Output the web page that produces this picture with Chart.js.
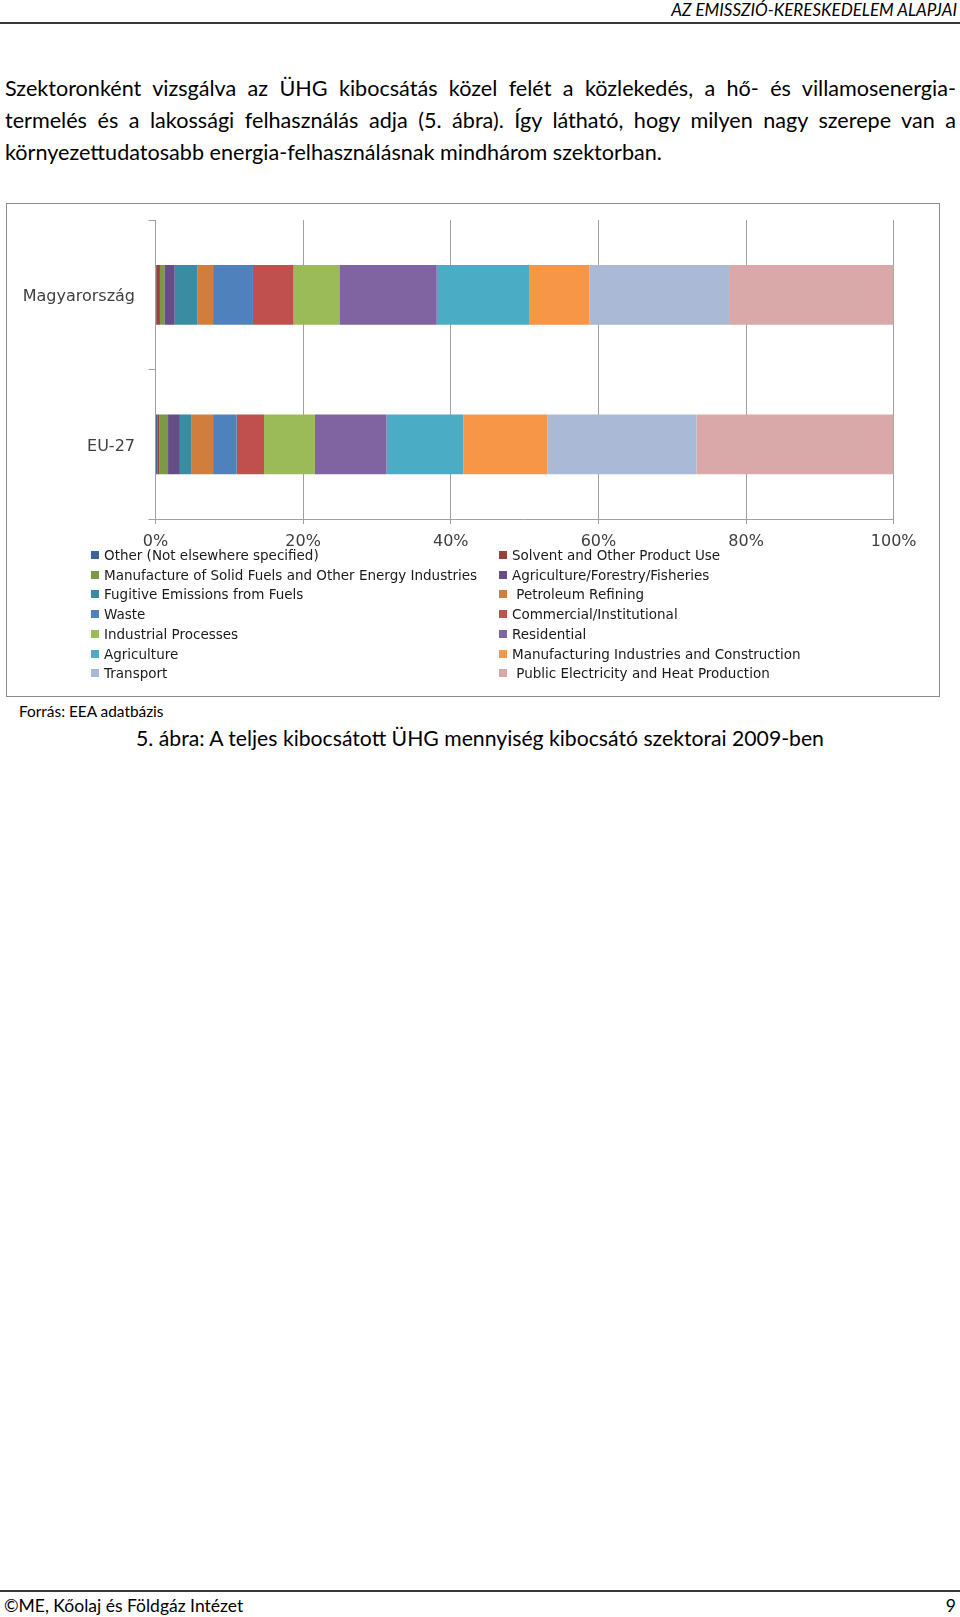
<!DOCTYPE html>
<html lang="hu">
<head>
<meta charset="utf-8">
<script src="https://cdn.jsdelivr.net/npm/chart.js@4.4.1/dist/chart.umd.min.js"></script>
<style>
  html, body { margin: 0; padding: 0; background: #fff; }
  body { width: 960px; height: 1617px; position: relative; overflow: hidden; font-family: Lato, "Open Sans", sans-serif; color: #000; }
  .abs { position: absolute; white-space: nowrap; }
  .hdr { right: 3px; top: 0; font-style: italic; font-size: 17px; line-height: 20px; }
  .rule { position: absolute; left: 0; width: 960px; height: 2px; background: #3a3a3a; }
  .para { position: absolute; left: 5px; width: 951px; font-size: 21.6px; line-height: 32px; white-space: nowrap; }
  .just { text-align: justify; text-align-last: justify; }
  .frame { position: absolute; left: 6px; top: 203px; width: 932px; height: 492px; border: 1px solid #8c8c8c; }
  #cv { position: absolute; left: 0; top: 197px; }
  .leg { position: absolute; font-family: "DejaVu Sans", sans-serif; font-size: 13.5px; line-height: 16px; color: #1a1a1a; white-space: nowrap; }
  .leg i { position: absolute; width: 8px; height: 8px; top: 4px; }
  .leg span { position: absolute; top: 0; }
</style>
</head>
<body>
<div class="abs hdr">AZ EMISSZIÓ-KERESKEDELEM ALAPJAI</div>
<div class="rule" style="top:22px"></div>

<div class="para just" style="top:72px">Szektoronként vizsgálva az ÜHG kibocsátás közel felét a közlekedés, a hő- és villamosenergia-</div>
<div class="para just" style="top:104px">termelés és a lakossági felhasználás adja (5. ábra). Így látható, hogy milyen nagy szerepe van a</div>
<div class="para" style="top:136px">környezettudatosabb energia-felhasználásnak mindhárom szektorban.</div>

<div class="frame"></div>
<canvas id="cv" width="960" height="356"></canvas>
<div id="legend"></div>

<div class="abs" style="left:19px; top:702px; font-size:15.4px; line-height:18px;">Forrás: EEA adatbázis</div>
<div class="abs" style="left:0; width:960px; text-align:center; top:726px; font-size:21.2px; line-height:24px;">5. ábra: A teljes kibocsátott ÜHG mennyiség kibocsátó szektorai 2009-ben</div>

<div class="rule" style="top:1590px"></div>
<div class="abs" style="left:4px; top:1596px; font-size:17.5px; line-height:20px;">©ME, Kőolaj és Földgáz Intézet</div>
<div class="abs" style="right:4px; top:1596px; font-size:17.5px; line-height:20px;">9</div>

<script>
// ── DATA ──────────────────────────────────────────────────────────────────────
const CATEGORIES = ['Magyarország', 'EU-27'];
const SECTORS = [
  'Other (Not elsewhere specified)',
  'Solvent and Other Product Use',
  'Manufacture of Solid Fuels and Other Energy Industries',
  'Agriculture/Forestry/Fisheries',
  'Fugitive Emissions from Fuels',
  ' Petroleum Refining',
  'Waste',
  'Commercial/Institutional',
  'Industrial Processes',
  'Residential',
  'Agriculture',
  'Manufacturing Industries and Construction',
  'Transport',
  ' Public Electricity and Heat Production'
];
// share of total emissions, %
const HU = [0.1, 0.5, 0.6, 1.4, 3.1, 2.1, 5.4, 5.5, 6.2, 13.2, 12.5, 8.2, 18.9, 22.3];
const EU = [0.3, 0.2, 1.2, 1.6, 1.6, 2.9, 3.2, 3.7, 6.9, 9.7, 10.4, 11.4, 20.2, 26.7];
const X_TICKS = [0, 20, 40, 60, 80, 100];

const COLORS = [
  '#3d6494', '#9b3e3b', '#7c9a45', '#654d86', '#3a8ca2', '#d17e3c', '#4f81bd',
  '#c0504d', '#9bbb59', '#8064a2', '#4bacc6', '#f79646', '#a9b9d6', '#d9a8a8'
];

// ── CHART ─────────────────────────────────────────────────────────────────────
const GRID = '#a0a0a0';
const tickFont = { family: 'DejaVu Sans', size: 16 };

new Chart(document.getElementById('cv').getContext('2d'), {
  type: 'bar',
  data: {
    labels: CATEGORIES,
    datasets: SECTORS.map((s, i) => ({
      label: s.trim(),
      data: [HU[i], EU[i]],
      backgroundColor: COLORS[i],
      borderWidth: 0,
      barPercentage: 0.4,
      categoryPercentage: 1
    }))
  },
  options: {
    indexAxis: 'y',
    responsive: false,
    animation: false,
    // top edge comes from the y labels' own padding (~23px)
    layout: { padding: { top: 0, right: 66.3, left: 0, bottom: 0 } },
    plugins: { legend: { display: false }, tooltip: { enabled: false } },
    scales: {
      x: {
        stacked: true, min: 0, max: 100,
        afterBuildTicks: s => { s.ticks = X_TICKS.map(v => ({ value: v })); },
        ticks: { callback: v => v + '%', color: '#404040', font: tickFont, padding: 8 },
        grid: { color: GRID, tickLength: 5 },
        border: { color: GRID },
        afterFit: s => { s.height = 34; }
      },
      y: {
        stacked: true,
        ticks: { color: '#404040', font: tickFont, padding: 13.5, labelOffset: 2.5 },
        grid: { drawOnChartArea: false, tickLength: 7, offset: true, color: GRID },
        border: { color: GRID },
        afterFit: s => { s.width = 155.5; }
      }
    }
  }
});

// ── LEGEND (two columns, row-wise like the original) ─────────────────────────
document.getElementById('legend').innerHTML = SECTORS.map((s, i) => {
  const col = i % 2, row = Math.floor(i / 2);
  const x = col ? 499 : 91, y = 547 + row * 19.7;
  return `<div class="leg" style="left:${x}px; top:${y}px"><i style="background:${COLORS[i]}"></i><span style="left:13px; white-space:pre">${s}</span></div>`;
}).join('');
</script>
</body>
</html>
